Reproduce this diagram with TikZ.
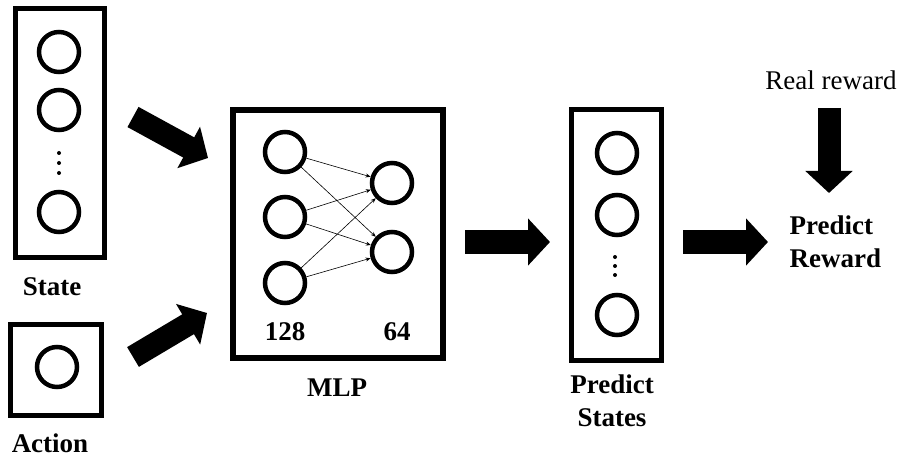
\documentclass[tikz,border=0pt]{standalone}
\usepackage{fontspec}
\setmainfont{Liberation Serif}
\usepackage{tikz}
\usetikzlibrary{arrows.meta}
\tikzstyle{bigarrow} = [line width=23pt,-{Triangle[length=22pt,width=46pt]}]

\begin{document}
\begin{tikzpicture}[x=1pt,y=-1pt,
	font=\fontsize{27}{33}\selectfont,
	unit/.style={circle, minimum size=40pt, inner sep=0pt, draw=black, line width=4.5pt},
	box/.style={rectangle, inner sep=0pt, draw=black, line width=5pt},
	label/.style={font=\fontsize{27}{33}\selectfont\bfseries, align=center}]
	\useasboundingbox (0,0) rectangle (901,462);
	
	% state input
	\node[box, minimum width=89pt, minimum height=249pt] (state) at (60,133) {};
	\node[unit] (s1) at (59,52) {};
	\node[unit] (s2) at (59,110) {};
	\node[unit] (s3) at (59,212) {};
	\fill (59,153) circle (2) (59,163) circle (2) (59,173) circle (2);
	\node[label] (statetxt) at (52,287) {State};
	
	% action input
	\node[box, minimum width=91pt, minimum height=91pt] (action) at (55.5,369.5) {};
	\node[unit] (a1) at (57,367) {};
	\node[label] (actiontxt) at (50,443) {Action};
	
	% mlp
	\node[box, line width=6pt, minimum width=210pt, minimum height=248pt] (mlp) at (338,234) {};
	\node[unit] (l1) at (285,152) {};
	\node[unit] (l2) at (285,217) {};
	\node[unit] (l3) at (285,283) {};
	\node[unit] (r1) at (392,183) {};
	\node[unit] (r2) at (392,252) {};
	\path[draw, line width=0.6pt, -{Stealth[length=5pt,width=4pt]}]
	(l1) edge (r1) (l1) edge (r2)
	(l2) edge (r1) (l2) edge (r2)
	(l3) edge (r1) (l3) edge (r2);
	\node[label] (n128) at (285,332) {128};
	\node[label] (n64) at (397,332) {64};
	\node[label] (mlptxt) at (337,388) {MLP};
	
	% predicted states
	\node[box, minimum width=90pt, minimum height=250pt] (pred) at (616,235) {};
	\node[unit] (p1) at (617,153) {};
	\node[unit] (p2) at (617,215) {};
	\node[unit] (p3) at (617,315) {};
	\fill (615,257) circle (2) (615,266) circle (2) (615,275) circle (2);
	\node[label] (predtxt) at (612,401) {Predict\\States};
	
	% reward
	\node[label, align=left, anchor=west] (reward) at (786,242) {Predict\\Reward};
	\node (real) at (831,80) {Real reward};
	
	% big arrows
	\coordinate (t1) at (133,117); \coordinate (h1) at (208,158);
	\coordinate (t2) at (133,357); \coordinate (h2) at (207,313);
	\coordinate (t3) at (465,242); \coordinate (h3) at (550,242);
	\coordinate (t4) at (683,242); \coordinate (h4) at (768,242);
	\coordinate (t5) at (829,108); \coordinate (h5) at (829,193);
	\draw[bigarrow] (t1) -- (h1);
	\draw[bigarrow] (t2) -- (h2);
	\draw[bigarrow] (t3) -- (h3);
	\draw[bigarrow] (t4) -- (h4);
	\draw[bigarrow] (t5) -- (h5);
\end{tikzpicture}
\end{document}
